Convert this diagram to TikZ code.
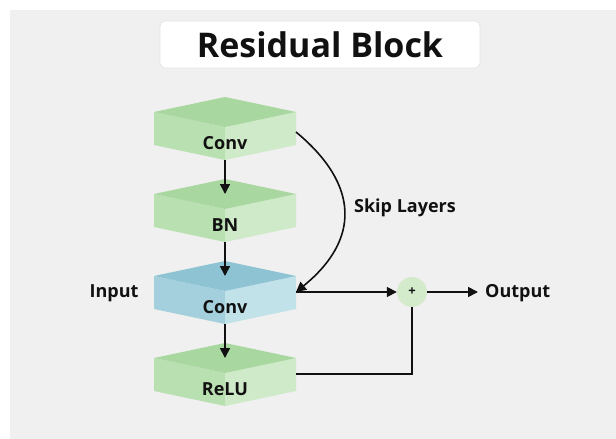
\documentclass[tikz,border=0pt]{standalone}
\usepackage{fontspec}
\setmainfont{Open Sans}
\usetikzlibrary{arrows.meta}

\definecolor{bgGray}{HTML}{F0F0F0}
\definecolor{titleEdge}{HTML}{E4E4E4}
\definecolor{gTop}{HTML}{A9D7A0}
\definecolor{gLeft}{HTML}{B9E0B1}
\definecolor{gRight}{HTML}{CFEAC8}
\definecolor{bTop}{HTML}{8EC3D3}
\definecolor{bLeft}{HTML}{A4D0DD}
\definecolor{bRight}{HTML}{C2E2EA}
\definecolor{sumFill}{HTML}{D3EBCB}
\definecolor{ink}{HTML}{111111}

\tikzset{
  x=1pt, y=-1pt,
  % a flat prism: top face plus two visible side faces
  prism/.pic={
    \fill[\prismleft]  (-71,0) -- (0,15) -- (0,48) -- (-71,33) -- cycle;
    \fill[\prismright] (71,0) -- (0,15) -- (0,48) -- (71,33) -- cycle;
    \fill[\prismtop]   (-71,0) -- (0,-15) -- (71,0) -- (0,15) -- cycle;
    \coordinate (-top) at (0,0);
    \coordinate (-bottom) at (0,48);
    \coordinate (-east) at (71,16);
    \coordinate (-skip) at (71,20);
  },
  greenprism/.code={\def\prismtop{gTop}\def\prismleft{gLeft}\def\prismright{gRight}},
  blueprism/.code={\def\prismtop{bTop}\def\prismleft{bLeft}\def\prismright{bRight}},
  layertext/.style={font=\bfseries\fontsize{18}{21}\selectfont, text=ink, inner sep=0pt},
  plain/.style={font=\bfseries\fontsize{18}{21}\selectfont, text=ink},
  flow/.style={line width=1.6pt, draw=ink, -{Triangle[length=10pt,width=10pt]}},
  wire/.style={line width=1.6pt, draw=ink},
}

\begin{document}
\begin{tikzpicture}
  \useasboundingbox (0,0) rectangle (616,439);
  \fill[white] (0,0) rectangle (616,439);
  \fill[bgGray] (10,10) rectangle (616,439);

  % heading
  \node[draw=titleEdge, fill=white, rounded corners=5pt, line width=0.8pt,
        minimum width=320pt, minimum height=47pt, inner sep=0pt,
        font=\bfseries\fontsize{34}{38}\selectfont, text=ink]
        (title) at (320,44.5) {Residual Block};

  % layer stack
  \pic[greenprism] (c1) at (225,112) {prism};
  \pic[greenprism] (bn) at (225,194) {prism};
  \pic[blueprism]  (c2) at (225,276) {prism};
  \pic[greenprism] (re) at (225,358) {prism};

  \node[layertext] (c1t) at (225,143) {Conv};
  \node[layertext] (bnt) at (225,225) {BN};
  \node[layertext] (c2t) at (225,307) {Conv};
  \node[layertext] (ret) at (225,389) {ReLU};

  \draw[flow] (c1-bottom) -- (bn-top);
  \draw[flow] (bn-bottom) -- (c2-top);
  \draw[flow] (c2-bottom) -- (re-top);

  % summation node and labels
  \node[circle, fill=sumFill, minimum size=30pt, inner sep=0pt,
        font=\bfseries\fontsize{13}{15}\selectfont, text=ink] (sum) at (412,292) {+};
  \node[plain, inner sep=0pt, anchor=west] (out) at (485,293) {Output};
  \node[plain] (in) at (114,293) {Input};
  \node[plain] (skiplbl) at (405,208) {Skip Layers};
  \coordinate (outtip) at (478,292);

  % skip connection
  \draw[flow] (c1-skip) .. controls (360,185) and (360,240) .. (c2-east);
  \draw[flow] (c2-east) -- (sum);
  \draw[flow] (sum) -- (outtip);
  \draw[wire] (re-east) -| (sum);
\end{tikzpicture}
\end{document}
